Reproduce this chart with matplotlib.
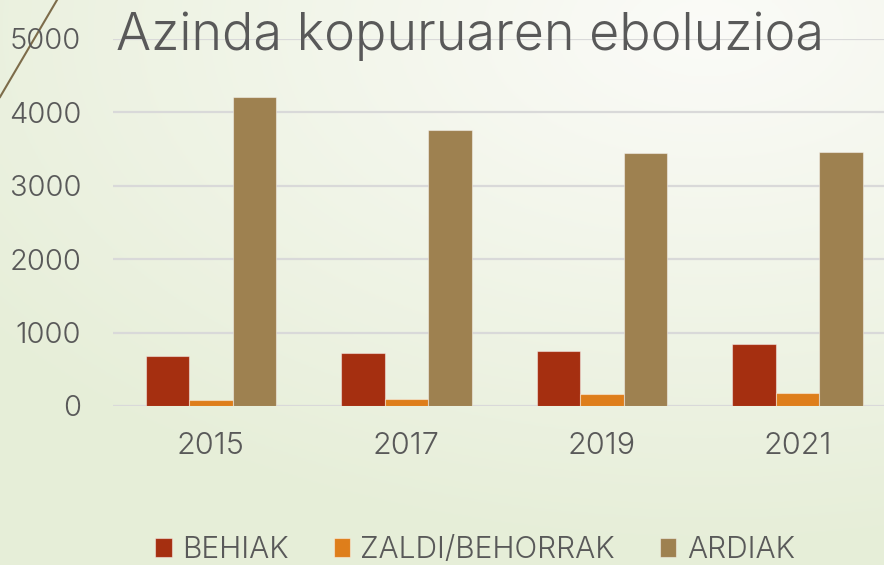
import numpy as np
import matplotlib
matplotlib.use("Agg")
import matplotlib.pyplot as plt
from matplotlib.lines import Line2D

years = ["2015", "2017", "2019", "2021"]
series_names = ["BEHIAK", "ZALDI/BEHORRAK", "ARDIAK"]
behiak = [680, 720, 750, 850]
zaldi = [85, 95, 165, 175]
ardiak = [4210, 3760, 3445, 3455]
yticks = [0, 1000, 2000, 3000, 4000, 5000]
title = "Azinda kopuruaren eboluzioa"
colors = ["#A52F10", "#DE7E1B", "#9E8150"]

W, H = 884, 565
fig = plt.figure(figsize=(W / 100, H / 100), dpi=100)

# background gradient
bg = fig.add_axes([0, 0, 1, 1], zorder=-10)
yy, xx = np.mgrid[0:1:200j, 0:1:300j]
d = np.sqrt(((xx - 0.8) * 1.0) ** 2 + ((yy - 0.05) * 1.1) ** 2)
t = np.clip(d / 1.0, 0, 1)
light = np.array([0.985, 0.985, 0.972])
dark = np.array([0.905, 0.935, 0.850])
img = light[None, None, :] * (1 - t[..., None]) + dark[None, None, :] * t[..., None]
bg.imshow(img, extent=[0, 1, 0, 1], aspect="auto", origin="upper")
bg.set_xlim(0, 1)
bg.set_ylim(0, 1)
bg.axis("off")
bg.add_line(Line2D([0 / W, 57 / W], [1 - 97 / H, 1.0], color="#7D6C4A", lw=1.5))

font = "Inter"
fw = 300
tcolor = "#595959"

left_px, right_px = 113, 884
bot_px, top_px = 406, 39
ax = fig.add_axes([left_px / W, 1 - bot_px / H, (right_px - left_px) / W, (bot_px - top_px) / H])
ax.patch.set_alpha(0)

x = np.arange(len(years))
bw = 0.222
for i, (vals, c, name) in enumerate(zip([behiak, zaldi, ardiak], colors, series_names)):
    ax.bar(x + (i - 1) * bw, vals, width=bw, color=c, edgecolor=(1, 1, 1, 0.45), linewidth=0.8,
           label=name, zorder=3)

spacing = 195.6
ax.set_xlim(-0.5, -0.5 + (right_px - left_px) / spacing)
ax.set_ylim(0, 5000)
ax.set_yticks(yticks)
ax.set_yticklabels([str(v) for v in yticks], fontsize=21, color=tcolor, family=font, weight=fw)
ax.set_xticks(x)
ax.set_xticklabels(years, fontsize=22, color=tcolor, family=font, weight=fw)
ax.tick_params(length=0)
ax.tick_params(axis="y", pad=23)
ax.tick_params(axis="x", pad=19)
ax.grid(axis="y", color="#D9D9D9", lw=1.6, zorder=0)
for s in ax.spines.values():
    s.set_visible(False)

fig.text(116 / W, 1 - 50 / H, title, fontsize=37.5, color=tcolor, family=font, weight=fw,
         va="baseline", ha="left")

leg = fig.legend(loc="center", bbox_to_anchor=(475 / W, 1 - 550 / H), ncol=3, frameon=False,
                 prop={"family": font, "size": 21.5, "weight": fw}, handlelength=0.55, handleheight=0.6,
                 handletextpad=0.35, columnspacing=1.5, labelcolor=tcolor)

fig.savefig("out.png", dpi=100)
